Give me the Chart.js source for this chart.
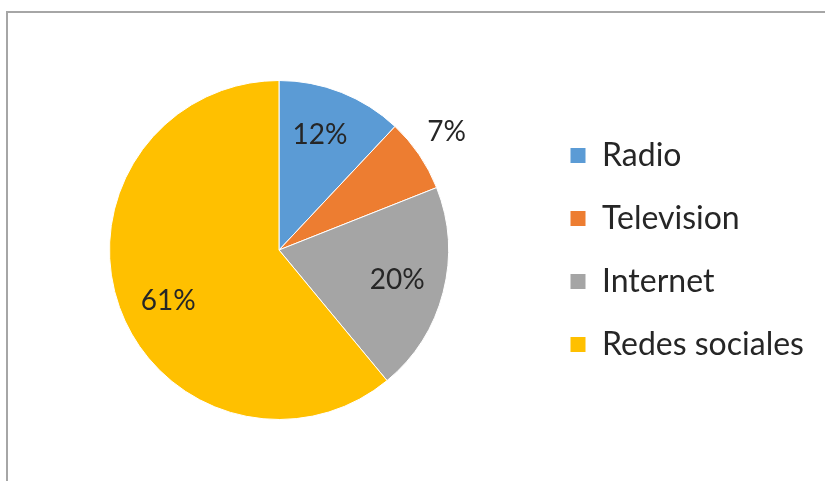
<!DOCTYPE html>
<html>
<head>
<meta charset="utf-8">
<script src="https://cdn.jsdelivr.net/npm/chart.js@4.4.1/dist/chart.umd.min.js"></script>
<style>
  html, body { margin: 0; padding: 0; background: #ffffff; }
  #wrap { position: relative; width: 825px; height: 481px; overflow: hidden; }
  #frame {
    position: absolute; left: 6px; top: 11px; right: -4px; bottom: -4px;
    border-left: 2px solid #a6a6a6; border-top: 2px solid #a6a6a6;
  }
  #chart { position: absolute; left: 0; top: 0; }
</style>
</head>
<body>
<div id="wrap">
  <div id="frame"></div>
  <canvas id="chart" width="825" height="481"></canvas>
</div>
<script>
// Medios por los que se informa la gente (porcentaje)
const categories = ['Radio', 'Television', 'Internet', 'Redes sociales'];
const shares = [12, 7, 20, 61];
const sliceColors = ['#5b9bd5', '#ed7d31', '#a5a5a5', '#ffc000'];

// Percentage labels: distance from the centre as a fraction of the radius,
// plus a small angular nudge (degrees) per slice.
const labelRadius = [0.72, 1.21, 0.72, 0.72];
const labelNudge = [-2, -1, 0, -5];

const FONT_FAMILY = 'Lato, "Open Sans", sans-serif';
const LEGEND_SIZE = 32;
const LEGEND_BOX = 16;
const LEGEND_PAD = 31;
const LEGEND_LEFT = 539;   // x where the legend block begins
const CANVAS_W = 825;

// Work out the legend's natural width so the block starts at LEGEND_LEFT.
const measure = document.createElement('canvas').getContext('2d');
measure.font = LEGEND_SIZE + 'px ' + FONT_FAMILY;
const widest = Math.max(...categories.map(c => measure.measureText(c).width));
const legendWidth = LEGEND_PAD + LEGEND_BOX + LEGEND_SIZE / 2 + widest + 10;
const rightPad = Math.max(0, CANVAS_W - LEGEND_LEFT - legendWidth);
const leftPad = 2 * 279 - LEGEND_LEFT;

const pieLabels = {
  id: 'pieLabels',
  afterDatasetsDraw(chart) {
    const ctx = chart.ctx;
    const meta = chart.getDatasetMeta(0);
    ctx.save();
    ctx.font = '28px ' + FONT_FAMILY;
    ctx.fillStyle = '#262626';
    ctx.textAlign = 'center';
    ctx.textBaseline = 'middle';
    meta.data.forEach((arc, i) => {
      const p = arc.getProps(['x', 'y', 'startAngle', 'endAngle', 'outerRadius'], true);
      const mid = (p.startAngle + p.endAngle) / 2 + labelNudge[i] * Math.PI / 180;
      const r = p.outerRadius * labelRadius[i];
      ctx.fillText(shares[i] + '%', p.x + Math.cos(mid) * r, p.y + Math.sin(mid) * r);
    });
    ctx.restore();
  }
};

new Chart(document.getElementById('chart'), {
  type: 'pie',
  data: {
    labels: categories,
    datasets: [{
      data: shares,
      backgroundColor: sliceColors,
      borderColor: '#ffffff',
      borderWidth: 1
    }]
  },
  options: {
    responsive: false,
    animation: false,
    layout: { padding: { left: leftPad, top: 80, bottom: 61, right: rightPad } },
    plugins: {
      tooltip: { enabled: false },
      legend: {
        position: 'right',
        labels: {
          boxWidth: LEGEND_BOX,
          boxHeight: LEGEND_BOX,
          padding: LEGEND_PAD,
          color: '#262626',
          font: { family: FONT_FAMILY, size: LEGEND_SIZE }
        }
      }
    }
  },
  plugins: [pieLabels]
});
</script>
</body>
</html>
